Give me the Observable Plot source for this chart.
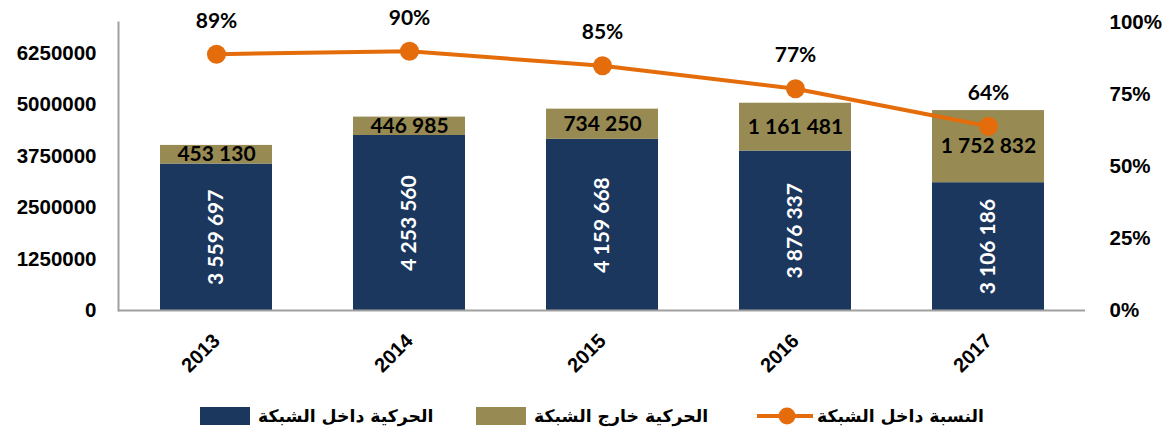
<!DOCTYPE html>
<html>
<head>
<meta charset="utf-8">
<script src="https://cdn.jsdelivr.net/npm/d3@7"></script>
<script src="https://cdn.jsdelivr.net/npm/@observablehq/plot@0.6"></script>
<style>
  body { margin: 0; background: #fff; }
  #legend { position: relative; height: 49px; width: 1168px; font-family: "DejaVu Sans", sans-serif; font-weight: bold; font-size: 17.3px; color: #000; }
  .item { position: absolute; top: 16px; display: flex; align-items: center; }
  .sw { width: 50px; height: 18px; margin-right: 8px; }
  .txt { direction: rtl; white-space: nowrap; }
</style>
</head>
<body>
<div id="chart"></div>
<div id="legend"></div>
<script>
const years = ["2013", "2014", "2015", "2016", "2017"];
const insideNet = [3559697, 4253560, 4159668, 3876337, 3106186];
const outsideNet = [453130, 446985, 734250, 1161481, 1752832];
const insideShare = [0.89, 0.90, 0.85, 0.77, 0.64];
const seriesNames = ["الحركية داخل الشبكة", "الحركية خارج الشبكة", "النسبة داخل الشبكة"];
const leftTicks = [0, 1250000, 2500000, 3750000, 5000000, 6250000];
const rightTicks = [0, 0.25, 0.5, 0.75, 1];
const yMax = 7000000;

const colors = {navy: "#1c375e", olive: "#978b53", orange: "#e46c0a"};

const bars = [];
years.forEach((y, i) => {
  bars.push({year: y, series: seriesNames[0], value: insideNet[i]});
  bars.push({year: y, series: seriesNames[1], value: outsideNet[i]});
});
const fmt = v => d3.format(",")(v).replace(/,/g, " ");
const insideLabels = years.map((y, i) => ({year: y, mid: insideNet[i] / 2, label: fmt(insideNet[i])}));
const outsideLabels = years.map((y, i) => ({year: y, mid: insideNet[i] + outsideNet[i] / 2, label: fmt(outsideNet[i])}));
const share = years.map((y, i) => ({year: y, v: insideShare[i] * yMax, label: Math.round(insideShare[i] * 100) + "%"}));

const labelFont = "Lato, 'Open Sans', sans-serif";
const axisFont = "'Liberation Sans', Arial, sans-serif";

const chart = Plot.plot({
  width: 1168,
  height: 390,
  marginLeft: 118,
  marginRight: 83,
  marginTop: 22,
  marginBottom: 80,
  style: {fontFamily: axisFont, background: "#fff"},
  x: {domain: years, paddingInner: 0.42, paddingOuter: 0.21, label: null},
  y: {domain: [0, yMax], label: null},
  color: {domain: seriesNames.slice(0, 2), range: [colors.navy, colors.olive]},
  marks: [
    Plot.barY(bars, {x: "year", y: "value", fill: "series", order: seriesNames.slice(0, 2)}),
    Plot.frame({anchor: "left", stroke: "#a0a0a0", strokeWidth: 2}),
    Plot.ruleY([0], {stroke: "#a0a0a0", strokeWidth: 2}),
    Plot.axisY({ticks: leftTicks, tickFormat: d3.format("d"), tickSize: 0, tickPadding: 22, fontSize: 20.5, fontWeight: "bold", label: null}),
    Plot.axisY({anchor: "right", ticks: rightTicks.map(t => t * yMax), tickFormat: d => Math.round(d / yMax * 100) + "%", tickSize: 0, tickPadding: 24, fontSize: 20.5, fontWeight: "bold", label: null}),
    Plot.axisX({tickRotate: -45, tickSize: 0, tickPadding: 27, fontSize: 20, fontWeight: "bold", label: null}),
    Plot.text(insideLabels, {x: "year", y: "mid", text: "label", rotate: -90, fill: "#fff", fontSize: 21, fontWeight: "bold", fontFamily: labelFont}),
    Plot.text(outsideLabels, {x: "year", y: "mid", text: "label", fill: "#000", fontSize: 21, fontWeight: "bold", fontFamily: labelFont}),
    Plot.line(share, {x: "year", y: "v", stroke: colors.orange, strokeWidth: 4}),
    Plot.dot(share, {x: "year", y: "v", r: 9.5, fill: colors.orange, stroke: "none"}),
    Plot.text(share, {x: "year", y: "v", text: "label", dy: -33, fill: "#000", fontSize: 21, fontWeight: "bold", fontFamily: labelFont})
  ]
});
document.getElementById("chart").appendChild(chart);

const legend = document.getElementById("legend");
const lefts = [200, 476, 757];
seriesNames.forEach((name, i) => {
  const item = document.createElement("div");
  item.className = "item";
  item.style.left = lefts[i] + "px";
  let sw;
  if (i < 2) {
    sw = `<div class="sw" style="background:${i === 0 ? colors.navy : colors.olive}"></div>`;
  } else {
    sw = `<svg width="56" height="20" style="margin-right:4px"><line x1="0" y1="10" x2="56" y2="10" stroke="${colors.orange}" stroke-width="4"/><circle cx="30" cy="10" r="8.5" fill="${colors.orange}"/></svg>`;
  }
  item.innerHTML = sw + `<span class="txt">${name}</span>`;
  legend.appendChild(item);
});
</script>
</body>
</html>
